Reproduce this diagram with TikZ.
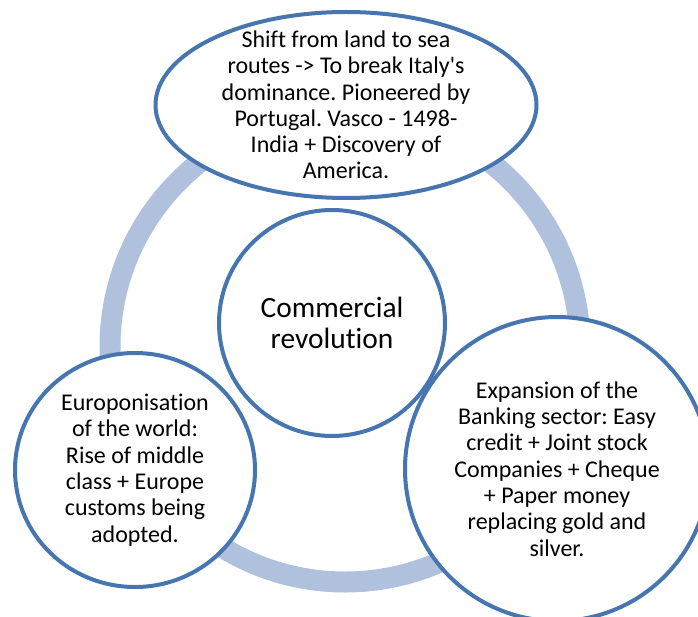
\documentclass[tikz,border=0pt]{standalone}
\usepackage{fontspec}
\setmainfont{Carlito}[Ligatures={NoCommon,NoContextual}]
\frenchspacing
\definecolor{rimblue}{HTML}{4675B0}
\definecolor{ringblue}{HTML}{B0C1DE}

\begin{document}
\begin{tikzpicture}[x=1pt, y=-1pt,
    rim/.style={draw=rimblue, line width=4pt},
    txt/.style={align=center, font=\fontsize{24}{26.3}\selectfont}]
        \clip (0,0) rectangle (698,617);

        % Centres of the shapes
        \coordinate (ringC) at (345,347);
        \coordinate (seaC) at (346,105);
        \coordinate (midC) at (332,323);
        \coordinate (eurC) at (135,470);
        \coordinate (bankC) at (557,469);

        % Background ring
        \draw[ringblue, line width=21pt] (ringC) circle (235);

        % White discs over the ring, then their outlines
        \foreach \c/\rx/\ry in {seaC/190.5/93, midC/113/113, eurC/120/117, bankC/152/152}
            \fill[white] (\c) ellipse ({\rx} and {\ry});
        \foreach \c/\rx/\ry in {seaC/190.5/93, midC/113/113, eurC/120/117, bankC/152/152}
            \draw[rim] (\c) ellipse ({\rx} and {\ry});

        % Texts
        \node[txt] (sea) at (seaC) {Shift from land to sea\\routes -> To break Italy\textquotesingle s\\dominance. Pioneered by\\Portugal. Vasco - 1498-\\India + Discovery of\\America.};
        \node[txt, font=\fontsize{29.4}{31.5}\selectfont] (mid) at (midC) {Commercial\\revolution};
        \node[txt] (eur) at (eurC) {Europonisation\\of the world:\\Rise of middle\\class + Europe\\customs being\\adopted.};
        \node[txt] (bank) at (bankC) {Expansion of the\\Banking sector: Easy\\credit + Joint stock\\Companies + Cheque\\+ Paper money\\replacing gold and\\silver.};
    \end{tikzpicture}
\end{document}
